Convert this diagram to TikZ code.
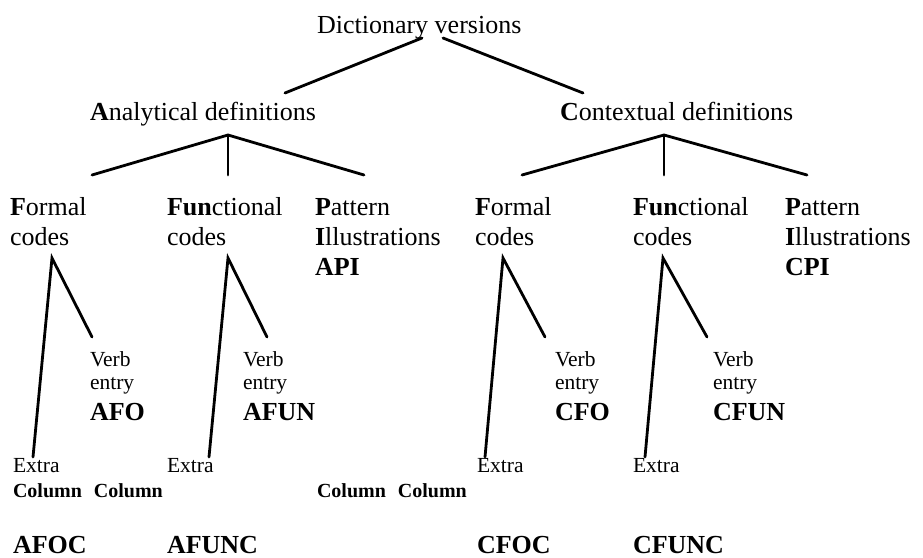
\documentclass[tikz,border=0pt]{standalone}
\usepackage{fontspec}
\setmainfont{Liberation Serif}
\begin{document}
\begin{tikzpicture}[x=1pt,y=-1pt,
  big/.style={anchor=base west,inner sep=0pt,outer sep=0pt,font=\fontsize{26}{30}\selectfont},
  small/.style={anchor=base west,inner sep=0pt,outer sep=0pt,font=\fontsize{21.5}{24}\selectfont},
  colm/.style={anchor=base west,inner sep=0pt,outer sep=0pt,font=\fontsize{20}{24}\selectfont\bfseries},
  code/.style={anchor=base west,inner sep=0pt,outer sep=0pt,font=\fontsize{26}{30}\selectfont\bfseries},
  edge/.style={line width=2.8pt,line cap=round}]
\useasboundingbox (0,0) rectangle (923,557);
% level 1 and 2
\node[big] (dict) at (317,33) {Dictionary versions};
\node[big] (anal) at (90,120) {\textbf{A}nalytical definitions};
\node[big] (cont) at (560,120) {\textbf{C}ontextual definitions};
% level 3, analytical
\node[big] (aF1) at (10,215) {\textbf{F}ormal};
\node[big] (aF2) at (10,245) {codes};
\node[big] (aU1) at (167,215) {\textbf{Fun}ctional};
\node[big] (aU2) at (167,245) {codes};
\node[big] (aP1) at (315,215) {\textbf{P}attern};
\node[big] (aP2) at (315,245) {\textbf{I}llustrations};
\node[code] (aP3) at (315,275) {API};
% level 3, contextual
\node[big] (cF1) at (475,215) {\textbf{F}ormal};
\node[big] (cF2) at (475,245) {codes};
\node[big] (cU1) at (633,215) {\textbf{Fun}ctional};
\node[big] (cU2) at (633,245) {codes};
\node[big] (cP1) at (785,215) {\textbf{P}attern};
\node[big] (cP2) at (785,245) {\textbf{I}llustrations};
\node[code] (cP3) at (785,275) {CPI};
% verb entries
\node[small] (aFv1) at (90,366) {Verb};
\node[small] (aFv2) at (90,389) {entry};
\node[code] (aFv3) at (90,420) {AFO};
\node[small] (aUv1) at (243,366) {Verb};
\node[small] (aUv2) at (243,389) {entry};
\node[code] (aUv3) at (243,420) {AFUN};
\node[small] (cFv1) at (555,366) {Verb};
\node[small] (cFv2) at (555,389) {entry};
\node[code] (cFv3) at (555,420) {CFO};
\node[small] (cUv1) at (713,366) {Verb};
\node[small] (cUv2) at (713,389) {entry};
\node[code] (cUv3) at (713,420) {CFUN};
% extra columns
\node[small] (aFx) at (13,472) {Extra};
\node[small] (aUx) at (167,472) {Extra};
\node[small] (cFx) at (477,472) {Extra};
\node[small] (cUx) at (633,472) {Extra};
\node[colm] (col1) at (13,497) {Column\hspace{0.6em}Column};
\node[colm] (col2) at (317,497) {Column\hspace{0.6em}Column};
\node[code] (aFc) at (13,553) {AFOC};
\node[code] (aUc) at (167,553) {AFUNC};
\node[code] (cFc) at (477,553) {CFOC};
\node[code] (cUc) at (633,553) {CFUNC};
% connector points
\coordinate (d1) at (422,38);
\coordinate (d2) at (443,38);
\coordinate (aTop) at (285,93);
\coordinate (cTop) at (583,93);
\coordinate (aV) at (228,135);
\coordinate (cV) at (664,135);
\coordinate (aFt) at (92,175);
\coordinate (aUt) at (228,175);
\coordinate (aPt) at (364,175);
\coordinate (cFt) at (522,175);
\coordinate (cUt) at (664,175);
\coordinate (cPt) at (807,175);
\coordinate (aFV) at (52,258);
\coordinate (aUV) at (228,258);
\coordinate (cFV) at (503,258);
\coordinate (cUV) at (663,258);
\coordinate (aFr) at (92,337);
\coordinate (aUr) at (267,337);
\coordinate (cFr) at (545,337);
\coordinate (cUr) at (707,337);
\coordinate (aFl) at (33,457);
\coordinate (aUl) at (209,457);
\coordinate (cFl) at (485,457);
\coordinate (cUl) at (645,457);
% connectors
\draw[edge] (d1) -- (aTop);
\draw[edge] (d2) -- (cTop);
\draw[edge] (aFt) -- (aV) -- (aPt);
\draw[edge] (aV) -- (aUt);
\draw[edge] (cFt) -- (cV) -- (cPt);
\draw[edge] (cV) -- (cUt);
\draw[edge] (aFl) -- (aFV) -- (aFr);
\draw[edge] (aUl) -- (aUV) -- (aUr);
\draw[edge] (cFl) -- (cFV) -- (cFr);
\draw[edge] (cUl) -- (cUV) -- (cUr);
\end{tikzpicture}
\end{document}
